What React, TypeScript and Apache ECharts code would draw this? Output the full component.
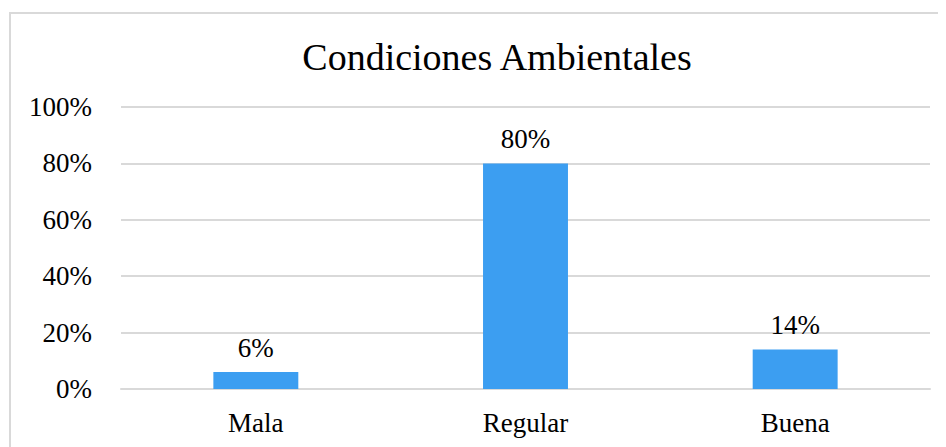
import React, { useEffect, useRef } from "react";
import * as echarts from "echarts";

const categories: string[] = ["Mala", "Regular", "Buena"];
const values: number[] = [0.06, 0.8, 0.14];
const title = "Condiciones Ambientales";

const FONT = "Liberation Serif";

export default function App() {
  const ref = useRef<HTMLDivElement>(null);
  useEffect(() => {
    if (!ref.current) return;
    const chart = echarts.init(ref.current, undefined, { renderer: "svg" });
    chart.setOption({
      animation: false,
      backgroundColor: "#ffffff",
      textStyle: { fontFamily: FONT },
      graphic: [
        {
          type: "rect",
          shape: { x: 2, y: 5, width: 980, height: 480 },
          style: { fill: "none", stroke: "#d9d9d9", lineWidth: 2 },
          silent: true,
          z: -1,
        },
        {
          type: "text",
          x: 489,
          y: 49,
          style: {
            text: title,
            fontFamily: FONT,
            fontSize: 38,
            fill: "#000000",
            textAlign: "center",
            textVerticalAlign: "middle",
          },
        },
      ],
      grid: { left: 113, right: 16, top: 99, bottom: 58, containLabel: false },
      xAxis: {
        type: "category",
        data: categories,
        axisLine: { show: true, lineStyle: { color: "#d9d9d9", width: 2 } },
        axisTick: { show: false },
        axisLabel: {
          fontFamily: FONT,
          fontSize: 27,
          color: "#000000",
          margin: 20,
        },
      },
      yAxis: {
        type: "value",
        min: 0,
        max: 1,
        interval: 0.2,
        axisLine: { show: false },
        axisTick: { show: false },
        splitLine: { lineStyle: { color: "#d9d9d9", width: 2 } },
        axisLabel: {
          fontFamily: FONT,
          fontSize: 27,
          color: "#000000",
          margin: 29,
          formatter: (v: number) => `${Math.round(v * 100)}%`,
        },
      },
      series: [
        {
          type: "bar",
          data: values,
          barWidth: "31.5%",
          itemStyle: { color: "#3C9EF1" },
          label: {
            show: true,
            position: "top",
            distance: 11,
            fontFamily: FONT,
            fontSize: 27,
            color: "#000000",
            formatter: (p: any) => `${Math.round(p.value * 100)}%`,
          },
        },
      ],
    });
    return () => chart.dispose();
  }, []);
  return <div ref={ref} style={{ width: 938, height: 439 }} />;
}
